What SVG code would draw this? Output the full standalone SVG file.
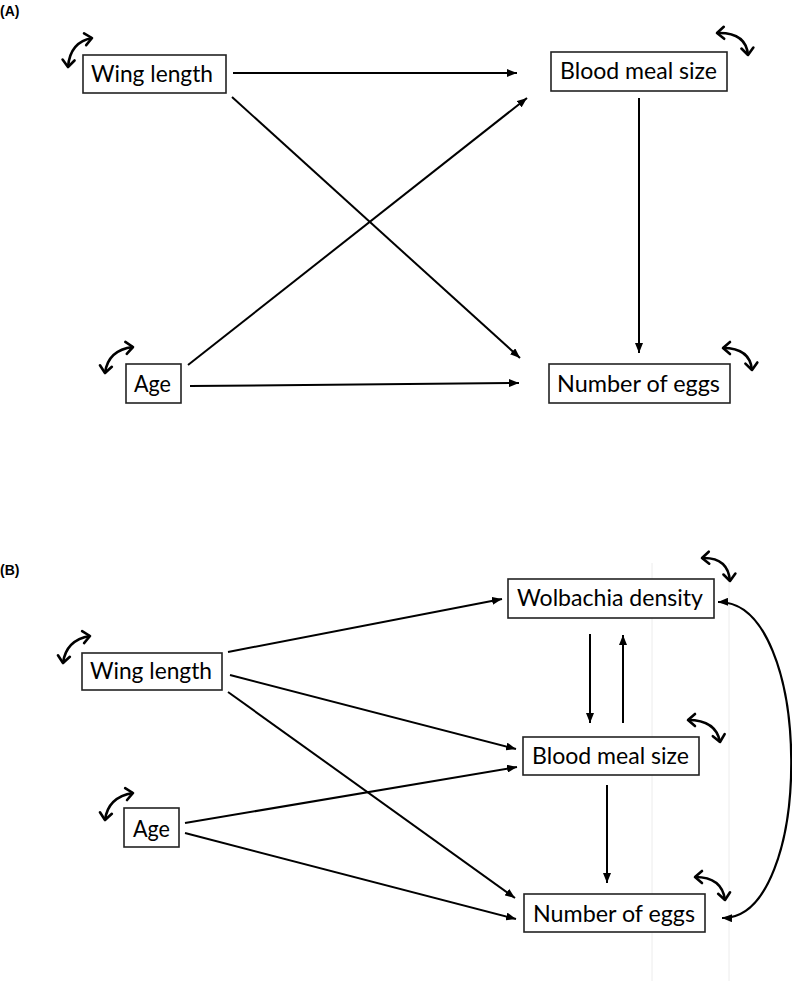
<svg xmlns="http://www.w3.org/2000/svg" width="792" height="981" viewBox="0 0 792 981">
<defs>
<marker id="ah" viewBox="0 0 10 8" refX="10" refY="4" markerWidth="10" markerHeight="8" markerUnits="userSpaceOnUse" orient="auto-start-reverse">
<path d="M0,0 L10,4 L0,8 z" fill="#000"/>
</marker>
<marker id="chev" viewBox="-10 -8 12 16" refX="0" refY="0" markerWidth="12" markerHeight="16" markerUnits="userSpaceOnUse" orient="auto-start-reverse" overflow="visible">
<path d="M-7,-6 L0,0 L-7,6" fill="none" stroke="#000" stroke-width="2.6" stroke-linecap="round" stroke-linejoin="round"/>
</marker>
</defs>
<style>
.box{fill:#fff;stroke:#222;stroke-width:1.6}
.lbl{font-family:Lato,"Open Sans","Liberation Sans",sans-serif;font-size:23px;fill:#000;text-anchor:middle}
.pan{font-family:"Liberation Sans",Arial,sans-serif;font-size:14px;font-weight:bold;fill:#000}
.edge{stroke:#000;stroke-width:2;fill:none;marker-end:url(#ah)}
.dbl{stroke:#000;stroke-width:2.2;fill:none;marker-start:url(#ah);marker-end:url(#ah)}
.loop{stroke:#000;stroke-width:2.6;fill:none;marker-start:url(#chev);marker-end:url(#chev)}
.grid{stroke:#ececec;stroke-width:1}
</style>
<g id="background">
<rect width="792" height="981" fill="#fff"/>
<line class="grid" x1="652" y1="563" x2="652" y2="981"/>
<line class="grid" x1="729" y1="563" x2="729" y2="981"/>
</g>
<text class="pan" x="0" y="16">(A)</text>
<text class="pan" x="0" y="575">(B)</text>

<g id="connectors">
<!-- Panel A -->
<line class="edge" x1="233" y1="73" x2="517" y2="73"/>
<line class="edge" x1="232" y1="97" x2="520" y2="358"/>
<line class="edge" x1="188" y1="365" x2="527" y2="98"/>
<line class="edge" x1="639" y1="98" x2="639" y2="353"/>
<line class="edge" x1="190" y1="386" x2="519" y2="383"/>
<!-- Panel B -->
<line class="edge" x1="228" y1="652" x2="502" y2="599"/>
<line class="edge" x1="230" y1="675" x2="516" y2="749"/>
<line class="edge" x1="228" y1="692" x2="515" y2="898"/>
<line class="edge" x1="185" y1="823" x2="517" y2="767"/>
<line class="edge" x1="185" y1="833" x2="516" y2="919"/>
<line class="edge" x1="590" y1="634" x2="590" y2="723"/>
<line class="edge" x1="623" y1="723" x2="623" y2="635"/>
<line class="edge" x1="607" y1="785" x2="607" y2="883"/>
<path class="dbl" d="M718,602 C815,600 815,920 722,918"/>
<!-- self loops -->
<path class="loop" d="M68,67 Q70,42 92,38"/>
<path class="loop" d="M717,33 Q746,32 748,55"/>
<path class="loop" d="M105,373 Q108,350 133,347"/>
<path class="loop" d="M723,348 Q750,348 752,370"/>
<path class="loop" d="M63,663 Q66,640 90,636"/>
<path class="loop" d="M702,558 Q728,557 730,581"/>
<path class="loop" d="M688,720 Q716,720 720,742"/>
<path class="loop" d="M695,877 Q722,877 725,900"/>
<path class="loop" d="M105,820 Q108,797 133,793"/>
</g>

<g id="A-wing">
<rect class="box" x="83" y="55" width="143" height="38"/>
<text class="lbl" x="152" y="82" textLength="122" lengthAdjust="spacingAndGlyphs">Wing length</text>
</g>
<g id="A-blood">
<rect class="box" x="551" y="52" width="176" height="39"/>
<text class="lbl" x="638.5" y="79" textLength="157" lengthAdjust="spacingAndGlyphs">Blood meal size</text>
</g>
<g id="A-age">
<rect class="box" x="126" y="364" width="55" height="39"/>
<text class="lbl" x="152.5" y="392" textLength="37" lengthAdjust="spacingAndGlyphs">Age</text>
</g>
<g id="A-eggs">
<rect class="box" x="549" y="364" width="181" height="39"/>
<text class="lbl" x="638.5" y="392" textLength="163" lengthAdjust="spacingAndGlyphs">Number of eggs</text>
</g>

<g id="B-wing">
<rect class="box" x="82" y="653" width="140" height="37"/>
<text class="lbl" x="151" y="679" textLength="122" lengthAdjust="spacingAndGlyphs">Wing length</text>
</g>
<g id="B-wolbachia">
<rect class="box" x="508" y="579" width="206" height="39"/>
<text class="lbl" x="610" y="606" textLength="186" lengthAdjust="spacingAndGlyphs">Wolbachia density</text>
</g>
<g id="B-blood">
<rect class="box" x="523" y="737" width="176" height="38"/>
<text class="lbl" x="610.5" y="764" textLength="157" lengthAdjust="spacingAndGlyphs">Blood meal size</text>
</g>
<g id="B-age">
<rect class="box" x="124" y="808" width="55" height="39"/>
<text class="lbl" x="151.5" y="837" textLength="37" lengthAdjust="spacingAndGlyphs">Age</text>
</g>
<g id="B-eggs">
<rect class="box" x="524" y="894" width="181" height="38"/>
<text class="lbl" x="614" y="922" textLength="162" lengthAdjust="spacingAndGlyphs">Number of eggs</text>
</g>
</svg>
